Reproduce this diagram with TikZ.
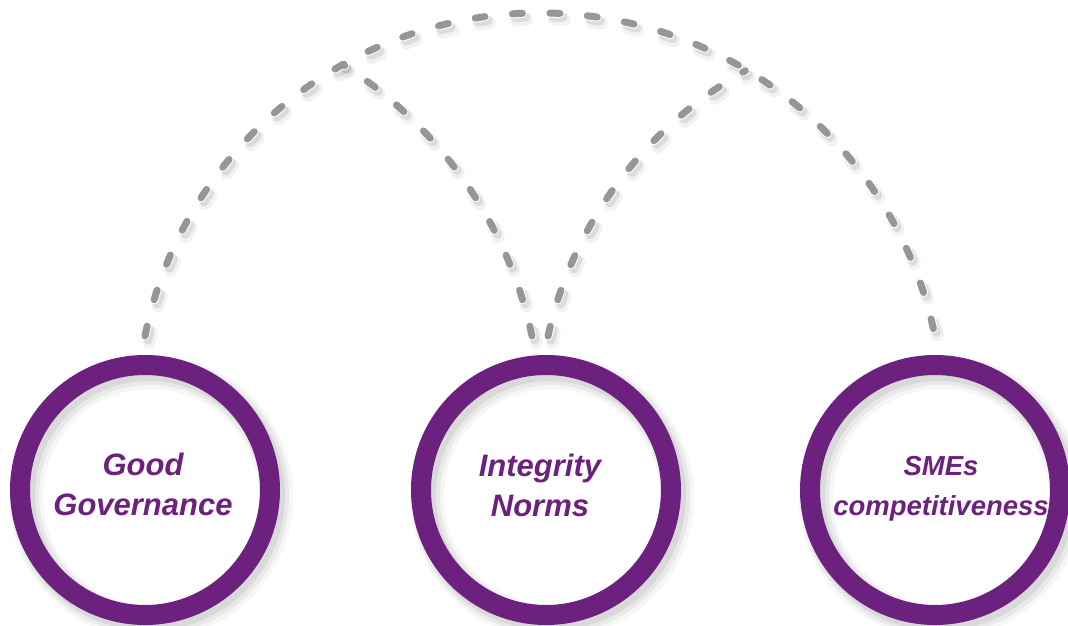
\documentclass[tikz,border=0pt]{standalone}
\usepackage{fontspec}
\setmainfont{Liberation Sans}
\usetikzlibrary{calc,backgrounds}
\definecolor{ringpurple}{RGB}{108,33,126}
\definecolor{dashgray}{RGB}{150,150,150}
\begin{document}
\begin{tikzpicture}[x=1pt,y=1pt,
  ring/.style={circle, draw=ringpurple, line width=20pt, minimum size=250pt, inner sep=0pt},
  lbl/.style={text=ringpurple, font=\bfseries\itshape\fontsize{31}{40}\selectfont, align=center, inner sep=0pt},
  lblsmall/.style={lbl, font=\bfseries\itshape\fontsize{27.5}{40}\selectfont},
  dashpat/.style={line cap=round, dash pattern=on 10pt off 27.5pt},
  link/.style={dashpat, draw=dashgray, line width=7pt},
  linkedge/.style={dashpat, draw=white, line width=9pt},
  linkshadowA/.style={dashpat, draw=black, opacity=0.05, line width=13pt, transform canvas={shift={(4pt,-6pt)}}},
  linkshadowB/.style={dashpat, draw=black, opacity=0.09, line width=9pt, transform canvas={shift={(3pt,-4pt)}}},
]
\useasboundingbox (0,0) rectangle (1068,625);

% circles
\node[ring] (gg) at (145,135) {};
\node[ring] (intg) at (546,135) {};
\node[ring] (sme) at (935,135) {};

% labels (anchor base = baseline of the last line)
\node[lbl, anchor=base] (ggt) at (143,110) {Good\\Governance};
\node[lbl, anchor=base] (intgt) at (540,109) {Integrity\\Norms};
\node[lblsmall, anchor=base] (smet) at (941,110) {SMEs\\competitiveness};

% circle shadows
\begin{scope}[on background layer]
  \foreach \c in {gg,intg,sme}{
    \draw[black, opacity=0.035, line width=34pt] ($(\c.center)+(6,-7)$) circle[radius=125pt];
    \draw[black, opacity=0.05, line width=28pt] ($(\c.center)+(5,-6)$) circle[radius=125pt];
    \draw[black, opacity=0.07, line width=22pt] ($(\c.center)+(4,-5)$) circle[radius=125pt];
  }
\end{scope}

% junctions on the large arc
\coordinate (j1) at (343.4,560.1);
\coordinate (j2) at (745.3,554.3);

% dashed connectors
\foreach \st in {linkshadowA,linkshadowB,linkedge,link}{
  \draw[\st] ([yshift=19pt]gg.north) arc[start angle=168.55, end angle=11.45, radius=403pt];
  \draw[\st] ([shift={(-14pt,19pt)}]intg.north) .. controls (508.2,401) and (439.6,498.5) .. (j1);
  \draw[\st] ([shift={(2pt,19pt)}]intg.north) .. controls (572.9,401.5) and (644.5,497.6) .. (j2);
}
\end{tikzpicture}
\end{document}
